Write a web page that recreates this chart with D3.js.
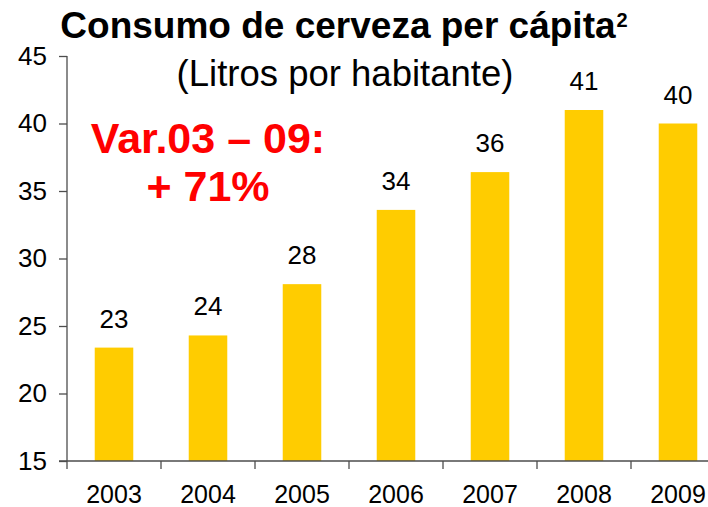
<!DOCTYPE html>
<html>
<head>
<meta charset="utf-8">
<script src="https://cdn.jsdelivr.net/npm/d3@7"></script>
<style>
  body { margin: 0; background: #fff; }
  svg { display: block; font-family: Arial, "Liberation Sans", sans-serif; }
</style>
</head>
<body>
<div id="chart"></div>
<script>
const years = ["2003", "2004", "2005", "2006", "2007", "2008", "2009"];
const litros = [23.4, 24.3, 28.1, 33.6, 36.4, 41.0, 40.0];
const yTicks = [15, 20, 25, 30, 35, 40, 45];

const chartConfig = {
  width: 708,
  height: 507,
  barColour: "#FFCC00",
  axisColour: "#4d4d4d",
  title: "Consumo de cerveza per cápita",
  subtitle: "(Litros por habitante)",
  note: ["Var.03 \u2013 09:", "+ 71%"]
};

const svg = d3.select("#chart").append("svg")
  .attr("width", chartConfig.width)
  .attr("height", chartConfig.height);

// scales - plot runs off the right edge like the original slide
let x = d3.scaleBand().domain(years).range([67, 725]).paddingInner(0.59).paddingOuter(0.295);
let y = d3.scaleLinear().domain([15, 45]).range([461, 56]);

// bars
svg.append("g").attr("class", "bars")
  .selectAll("rect")
  .data(litros)
  .enter()
  .append("rect")
  .attr("x", (d, i) => x(years[i]))
  .attr("y", d => y(d))
  .attr("width", x.bandwidth())
  .attr("height", d => y(15) - y(d))
  .attr("fill", chartConfig.barColour);

// value labels
svg.append("g").attr("class", "labels")
  .selectAll("text")
  .data(litros)
  .enter()
  .append("text")
  .attr("x", (d, i) => x(years[i]) + x.bandwidth() / 2)
  .attr("y", d => y(d) - 20)
  .attr("text-anchor", "middle")
  .attr("font-size", "26px")
  .attr("fill", "#000")
  .text(d => Math.round(d));

// y axis
let yAxis = svg.append("g")
  .attr("transform", "translate(67,0)")
  .call(d3.axisLeft(y).tickValues(yTicks).tickSize(8).tickPadding(12));
yAxis.selectAll("text").attr("font-size", "26px").attr("fill", "#000")
  .attr("font-family", "Arial, 'Liberation Sans', sans-serif");

// x axis, ticks sit between the categories
let xAxis = svg.append("g").attr("transform", "translate(0,461)");
xAxis.append("line")
  .attr("x1", 59).attr("x2", 725)
  .attr("stroke", chartConfig.axisColour).attr("stroke-width", 1.3);
xAxis.selectAll(".sep")
  .data(years)
  .enter()
  .append("line")
  .attr("class", "sep")
  .attr("x1", d => x(d) - x.step() * x.paddingOuter())
  .attr("x2", d => x(d) - x.step() * x.paddingOuter())
  .attr("y1", 0).attr("y2", 8)
  .attr("stroke", chartConfig.axisColour).attr("stroke-width", 1.3);
xAxis.selectAll(".year")
  .data(years)
  .enter()
  .append("text")
  .attr("class", "year")
  .attr("x", d => x(d) + x.bandwidth() / 2)
  .attr("y", 42)
  .attr("text-anchor", "middle")
  .attr("font-size", "25px")
  .attr("fill", "#000")
  .text(d => d);

yAxis.select(".domain").attr("stroke", chartConfig.axisColour).attr("stroke-width", 1.3)
  .attr("d", "M0," + y(45) + "V" + y(15));
yAxis.selectAll(".tick line").attr("stroke", chartConfig.axisColour).attr("stroke-width", 1.3);

// titles
let title = svg.append("text")
  .attr("x", 344)
  .attr("y", 38)
  .attr("text-anchor", "middle")
  .attr("font-size", "37px")
  .attr("font-weight", "bold")
  .attr("fill", "#000");
title.append("tspan").text(chartConfig.title);
title.append("tspan").attr("font-size", "20px").attr("dy", -11).attr("dx", 1).text("2");

svg.append("text")
  .attr("x", 345)
  .attr("y", 86)
  .attr("text-anchor", "middle")
  .attr("font-size", "36.5px")
  .attr("fill", "#000")
  .text(chartConfig.subtitle);

// red annotation
svg.append("g").attr("class", "note")
  .selectAll("text")
  .data(chartConfig.note)
  .enter()
  .append("text")
  .attr("x", 208)
  .attr("y", (d, i) => 153 + i * 48)
  .attr("text-anchor", "middle")
  .attr("font-size", "43px")
  .attr("font-weight", "bold")
  .attr("fill", "#FF0000")
  .text(d => d);
</script>
</body>
</html>
